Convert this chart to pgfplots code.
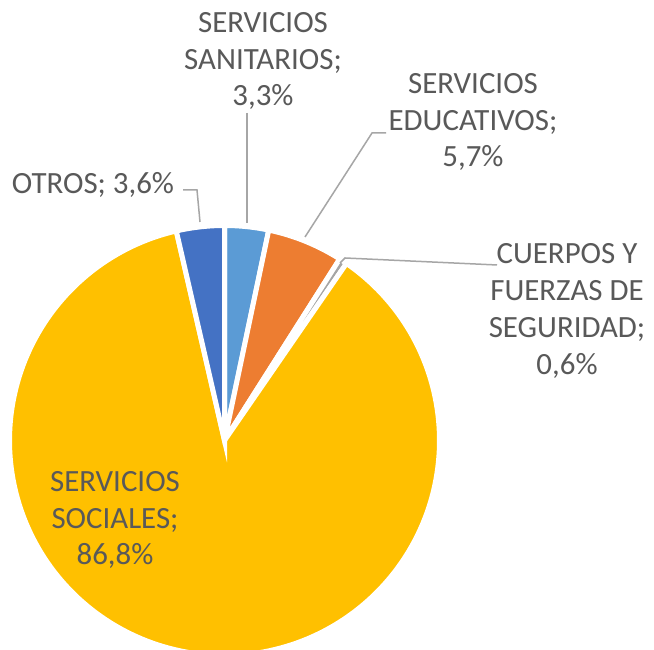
\documentclass[border=0pt]{standalone}
\usepackage{pgfplots}
\pgfplotsset{compat=1.18}
\usepackage{fontspec}
\setmainfont{Carlito}
\definecolor{cSan}{HTML}{5B9BD5}
\definecolor{cEdu}{HTML}{ED7D31}
\definecolor{cCue}{HTML}{A5A5A5}
\definecolor{cSoc}{HTML}{FFC000}
\definecolor{cOtr}{HTML}{4472C4}
\definecolor{txt}{HTML}{595959}
\definecolor{lead}{HTML}{A6A6A6}
% data (percent)
\def\vSan{3.3}
\def\vEdu{5.7}
\def\vCue{0.6}
\def\vSoc{86.8}
\def\vOtr{3.6}
% geometry (pixel units)
\def\cx{224.5}
\def\cy{209.5}
\def\R{215}
\pgfmathsetmacro\aA{90}
\pgfmathsetmacro\aB{\aA-3.6*\vSan}
\pgfmathsetmacro\aC{\aB-3.6*\vEdu}
\pgfmathsetmacro\aD{\aC-3.6*\vCue}
\pgfmathsetmacro\aE{\aD-3.6*\vSoc}
\pgfmathsetmacro\aF{\aE-3.6*\vOtr}
\tikzset{lbl/.style={font=\fontsize{15.5}{18.5}\selectfont, text=txt, align=center, inner sep=0pt}}
\begin{document}
\begin{tikzpicture}
\begin{axis}[
  width=327bp, height=325bp, scale only axis,
  xmin=0, xmax=654, ymin=0, ymax=650,
  hide axis, clip=true,
]
\addplot[fill=white, draw=none] coordinates {(0,0) (654,0) (654,650) (0,650)} -- cycle;
\addplot[fill=cSan, draw=white, line width=2.5bp, domain=\aB:\aA, samples=40, variable=\t]
  ({\cx+\R*cos(\t)}, {\cy+\R*sin(\t)}) -- (axis cs:\cx,\cy) -- cycle;
\addplot[fill=cEdu, draw=white, line width=2.5bp, domain=\aC:\aB, samples=40, variable=\t]
  ({\cx+\R*cos(\t)}, {\cy+\R*sin(\t)}) -- (axis cs:\cx,\cy) -- cycle;
\addplot[fill=cCue, draw=white, line width=2.5bp, domain=\aD:\aC, samples=10, variable=\t]
  ({\cx+\R*cos(\t)}, {\cy+\R*sin(\t)}) -- (axis cs:\cx,\cy) -- cycle;
\addplot[fill=cSoc, draw=white, line width=2.5bp, domain=\aE:\aD, samples=200, variable=\t]
  ({\cx+\R*cos(\t)}, {\cy+\R*sin(\t)}) -- (axis cs:\cx,\cy) -- cycle;
\addplot[fill=cOtr, draw=white, line width=2.5bp, domain=\aF:\aE, samples=40, variable=\t]
  ({\cx+\R*cos(\t)}, {\cy+\R*sin(\t)}) -- (axis cs:\cx,\cy) -- cycle;
% leader lines
\addplot[lead, line width=0.75bp] coordinates {(183,460) (197,460) (200,428)};
\addplot[lead, line width=0.75bp] coordinates {(247,537) (247,427)};
\addplot[lead, line width=0.75bp] coordinates {(386,517) (372,517) (305,413)};
\addplot[lead, line width=0.75bp] coordinates {(497,385) (345,392) (340,387)};
% labels
\node[lbl] at (axis cs:263,589) {SERVICIOS\\SANITARIOS;\\3,3\%};
\node[lbl] at (axis cs:473,528) {SERVICIOS\\EDUCATIVOS;\\5,7\%};
\node[lbl] at (axis cs:567,339) {CUERPOS Y\\FUERZAS DE\\SEGURIDAD;\\0,6\%};
\node[lbl] at (axis cs:93,465) {OTROS; 3,6\%};
\node[lbl] at (axis cs:115,130) {SERVICIOS\\SOCIALES;\\86,8\%};
\end{axis}
\end{tikzpicture}
\end{document}
